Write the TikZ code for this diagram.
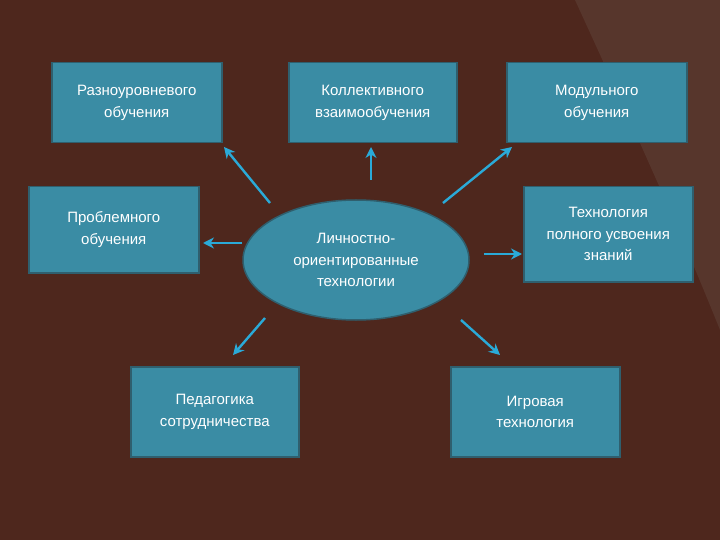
\documentclass[tikz,border=0pt]{standalone}
\usepackage{fontspec}
\setmainfont{Liberation Sans}
\usetikzlibrary{shapes.geometric,arrows.meta}
\definecolor{bg}{HTML}{4E271D}
\definecolor{swoosh}{HTML}{57362C}
\definecolor{boxc}{HTML}{3A8CA4}
\definecolor{boxb}{HTML}{2F5F6E}
\definecolor{arr}{HTML}{2AAAD8}
\tikzset{
 box/.style={draw=boxb,line width=1.5pt,fill=boxc,text=white,font=\fontsize{15}{21.5}\selectfont,align=center,inner sep=0pt},
 arrow/.style={draw=arr,line width=2.4pt,-{Stealth[length=11pt,width=11pt]}}
}
\begin{document}
\begin{tikzpicture}[x=1pt,y=-1pt]
\fill[bg] (0,0) rectangle (720,540);
\fill[swoosh] (575,0) .. controls (630,120) and (680,230) .. (720,330) -- (720,0) -- cycle;
\useasboundingbox (0,0) rectangle (720,540);
\node[box,minimum width=170pt,minimum height=80pt,anchor=north west] (b1) at (51,62) {Разноуровневого\\обучения};
\node[box,minimum width=168pt,minimum height=80pt,anchor=north west] (b2) at (288,62) {Коллективного\\взаимообучения};
\node[box,minimum width=180pt,minimum height=80pt,anchor=north west] (b3) at (506,62) {Модульного\\обучения};
\node[box,minimum width=170pt,minimum height=86pt,anchor=north west] (b4) at (28,186) {Проблемного\\обучения};
\node[box,minimum width=169pt,minimum height=95pt,anchor=north west] (b5) at (523,186) {Технология\\полного усвоения\\знаний};
\node[box,minimum width=168pt,minimum height=90pt,anchor=north west] (b6) at (130,366) {Педагогика\\сотрудничества};
\node[box,minimum width=169pt,minimum height=90pt,anchor=north west] (b7) at (450,366) {Игровая\\технология};
\node[box,ellipse,minimum width=226pt,minimum height=120pt] (e) at (356,260) {Личностно-\\ориентированные\\технологии};
\coordinate (s1) at (270,203); \coordinate (t1) at (224,147);
\coordinate (s2) at (371,180); \coordinate (t2) at (371,147);
\coordinate (s3) at (443,203); \coordinate (t3) at (512,147);
\coordinate (s4) at (242,243); \coordinate (t4) at (203,243);
\coordinate (s5) at (484,254); \coordinate (t5) at (522,254);
\coordinate (s6) at (265,318); \coordinate (t6) at (233,355);
\coordinate (s7) at (461,320); \coordinate (t7) at (500,355);
\foreach \i in {1,...,7} \draw[arrow] (s\i) -- (t\i);
\end{tikzpicture}
\end{document}
